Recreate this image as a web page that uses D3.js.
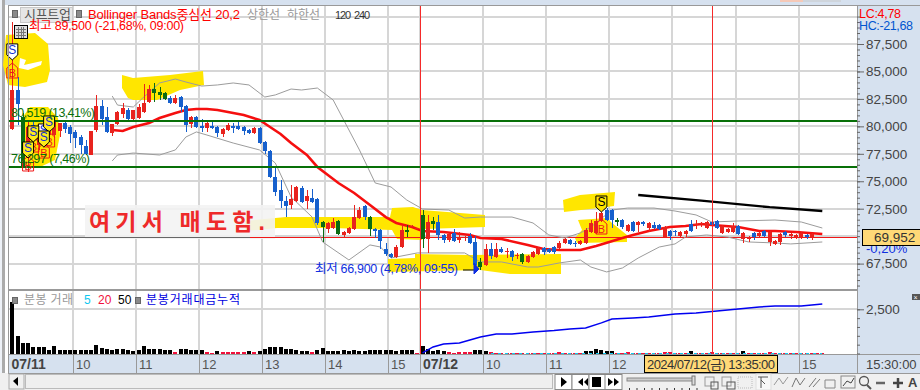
<!DOCTYPE html>
<html><head><meta charset="utf-8">
<script src="https://cdn.jsdelivr.net/npm/d3@7"></script>
<style>html,body{margin:0;padding:0;background:#fff;overflow:hidden}svg{display:block}text{font-family:"Liberation Sans","Noto Sans CJK KR",sans-serif}</style>
</head><body><svg id="c" width="920" height="390"></svg>
<script>
// ---- data ----
const kinds=[..."RBGRBRBRRRBBBBBRRBBRRRBRRRRGGGBRBBRBBRBBRRBBBBRBBBBBBRRBRBBGRRGRRRRBGBBBBRRGRRGRGBBRBRRBBGRBRBRBRGRRRBBBRRBBRRRRRBBGBRBRBRBBRBBRRBRRRBBRRRBRRBRBRRRBRRRBR"];
const highs=[89500,84500,81220,80400,80580,80120,80580,81030,80760,80310,
80580,80120,79670,79210,78760,79580,82860,82400,81760,80210,
81400,82130,81670,81490,82040,83860,83770,83950,83580,83130,
82760,82860,82760,81940,80940,80940,80670,80490,80490,80030,
79850,80310,80310,80400,80030,79760,79940,79940,78670,77850,
76210,75110,73660,74660,74570,74570,74200,74300,73480,71380,
71290,71650,71470,70470,70830,72840,72660,72840,71840,70740,
70650,69380,68470,69200,71020,71020,71020,70740,72380,71930,
71740,71930,70200,70290,70650,70380,70020,70290,70020,68010,
69290,69380,69380,69010,68920,68740,68470,68470,68290,68650,
69010,69010,68920,69100,69560,69830,69740,69560,69650,70740,
71470,72200,72290,72560,72470,71650,71560,71110,71380,71380,
71380,71290,71290,71110,70920,70560,70560,70470,70560,71470,
71470,71290,71380,71740,71470,71020,70740,71200,71020,70380,
70020,70380,70380,70560,70470,69650,70290,70470,70290,70200,
70380,70200,70290,70470,70110];
const bodyTops=[83310,83310,80850,79940,80120,79670,80120,80580,80400,80310,
80310,79940,79490,79030,78210,79580,81850,81850,80850,80210,
81310,81670,81490,81490,81760,82130,83400,83400,83130,83040,
82580,82580,82670,81850,80850,80850,80030,80310,80030,79940,
79760,80120,80030,80030,79940,79670,79850,79850,78580,77760,
75390,74200,73200,73380,74480,74390,73660,73480,73380,71290,
71200,71290,71380,70380,70740,71740,72380,72750,71740,70650,
70560,68830,68380,69010,70560,70560,70920,70740,71930,71290,
71380,71290,70110,70200,70290,69920,69920,70020,69470,67650,
68830,68830,68830,68830,68650,68650,68290,68380,68190,68560,
68920,68920,68830,69010,69380,69740,69650,69380,69560,70560,
71200,71380,72110,72380,72380,71470,71470,71020,71290,71290,
71290,71200,71020,71020,70830,70470,70470,70380,70470,71110,
71110,71200,71290,71290,71380,70920,70650,70920,70920,70290,
69920,70290,70290,70470,70380,69560,70200,70380,70200,70110,
70290,70110,70200,70290,70110];
const bodyBottoms=[79760,82040,76300,77850,78760,78300,79210,79210,79210,79580,
79760,79300,78940,78300,77480,77390,79670,80670,79490,79390,
80210,81130,80670,80670,80760,81310,82220,83040,82860,82490,
82130,82130,81760,80120,80210,79940,79850,79850,79850,79390,
79300,79670,79850,79760,79580,79390,79390,78480,77760,75390,
74020,73200,72750,72840,73200,73110,73200,73110,71200,70830,
70650,70740,70200,70110,70290,70650,71650,71740,70650,70470,
69560,68380,68100,68100,69010,70380,70920,70740,69740,69740,
71110,70110,69650,69650,69560,69650,69830,69380,67380,67190,
67380,68190,68100,68560,68560,68100,68190,67650,67650,68100,
68380,68560,68560,68560,68920,69380,69290,69290,69290,69380,
70380,70290,71380,71470,71470,71290,70830,70470,70470,71020,
71110,70740,70740,70650,69920,70020,70380,70020,70200,70470,
71020,71110,70740,71020,70740,70290,70380,70380,70200,69740,
69740,69920,70020,70020,69470,69290,69470,70110,70020,69920,
69920,69920,69920,70020,70020];
const lows=[79670,80120,76300,75840,78300,77850,78760,78760,78940,79030,
79390,78480,78030,77480,77390,77390,79490,80120,79390,79120,
80120,80760,80580,80580,80670,81220,82130,82220,82400,82400,
82040,82040,81310,79490,79850,79850,79490,79490,79760,79030,
79030,79580,79390,79670,79210,79300,79300,78390,77480,75300,
73660,72560,71740,72470,73110,73020,72470,73020,71020,69470,
70290,70650,70110,69830,70200,70560,71560,71470,70020,69830,
68830,68190,68010,68010,68920,69920,70830,70650,68920,68470,
70560,69650,69380,69470,69470,69380,69560,69290,66900,66950,
67280,67920,68010,68470,68010,67740,67920,67470,67560,68010,
68290,68290,68470,68380,68830,69290,69200,69010,69200,69290,
70290,70200,71290,71380,70740,70920,70650,70380,70380,70380,
70920,70380,70650,70560,69830,69650,70020,69920,69920,70380,
70650,70830,70650,70740,70650,70200,70290,70290,70110,69380,
69470,69650,69920,69920,69100,69200,69200,69920,69740,69740,
69740,69740,69650,69830,69920];
const maIdx=[19,21,23,26,28,31,33,35,37,39,41,44,47,49,51,53,56,58,62,65,68,71,73,76,78,82,87,89,93,98,101,104,108,111,116,118,121,125,128,131,133,138,142,145,149,154];
const maVal=[79670,79580,79940,80310,80760,81220,81490,81580,81580,81490,81310,81030,80580,79940,79300,78480,77390,76300,74840,73930,72840,71740,71200,70830,70470,70380,70110,69830,69740,69200,68830,68740,68740,69100,69830,70110,70470,70830,70920,71110,71020,70830,70470,70470,70380,70200];
const upIdx=[19,20,23,25,28,31,33,36,39,42,45,48,50,53,55,58,61,63,64,66,69,72,75,78,83,86,89,95,99,102,105,108,110,114,117,122,126,130,133,138,145,150,154];
const upVal=[82760,81940,81760,82670,83950,84310,84040,83670,83770,83950,83770,82670,82860,83400,83310,83490,82400,80580,79670,77850,74840,74480,73290,72470,72380,71650,71740,71740,71200,70110,69830,70290,70830,72380,72560,72560,72290,71930,71290,71380,71470,71290,70740];
const loIdx=[19,20,23,28,31,33,35,37,42,47,50,53,57,59,64,68,70,72,77,86,89,93,98,100,104,108,110,113,116,119,123,126,128,132,136,140,145,148,154];
const loVal=[76850,77390,77570,77390,77850,79030,79490,79210,78480,77850,76660,73570,71740,69470,67830,69200,69010,68010,68470,68470,67650,67650,67190,67190,67560,67830,67190,66740,67100,68010,69010,69290,69920,70110,69920,69470,69380,69290,69470];
const trendIdx=[119,131,144,154], trendVal=[73750,73240,72640,72290];
const levels=[80519,76297];
const currentPrice=69952;
const volumes=[52,18,11,11,7,6.7,6.7,4,8,4.3,3.7,4.3,3.7,3.7,4.3,4.3,9,6,5.3,4.3,4.7,5,3.7,3.3,4,8,5.3,5.3,4.7,3.7,3.7,2.3,4.7,5.3,3.7,3.7,3.7,2,1.3,3.3,2,2.3,2.3,2.3,1.7,3.3,1.7,3.3,5.3,6.7,6.7,6.7,5.3,5.3,3.7,
3.3,3.3,2.3,4,6.3,3.3,3.3,3.3,4.3,3.3,4.3,3.3,3,4.3,4.3,4.3,4.3,4.3,3.3,4.3,4.3,4.3,1,8,5.3,3.3,4.3,3.3,1.7,1.3,2,1.7,2,4.3,4.3,3.3,2,1,
.7,.7,.7,.7,.7,.7,.7,.7,.7,.7,.7,2,.7,.7,.7,.7,3.3,3.3,5.3,4,3.3,3.3,.7,.7,2,.7,.7,.7,.7,.7,.7,2,2,.7,.7,.7,3.3,.7,.7,.7,1.7,.7,.7,.7,.7,.7,3.3,.7,.7,.7,.7,2,.7,.7,.7,.7,.7,.7,.7,.7,.7,.7];
const cumIdx=[78,80,82,85,87,89,92,95,99,103,106,109,112,114,118,121,126,130,134,138,142,145,150,154];
const cumVal=[30,370,540,590,760,930,1100,1100,1220,1300,1390,1440,1730,1950,2010,2070,2240,2290,2410,2520,2630,2690,2690,2800];
const sigS=[[0,86050,"w"],[6,78760,"w"],[7,79490,"y"],[4,78580,"y"],[6,78120,"y"],[3,77120,"y"],[112,72200,"k"]];
const sigB=[[0,85770],[3,77300],[4,79030],[6,78480],[7,79490],[112,71560]];
const priceTicks=[67500,70000,72500,75000,77500,80000,82500,85000,87500,90000];
const priceLabels=[67500,72500,75000,77500,80000,82500,85000,87500];
const hourIdx=[0,12,24,36,48,60,72,78,90,102,114,126,138,150];
const hourLabels=["07/11","10","11","12","13","14","15","07/12","10","11","12","13","14","15"];
const crossIdx=133;

// ---- scales ----
const svg=d3.select("#c");
const x=d3.scaleLinear([0,154],[12.3,822.3]);
const y=d3.scaleLinear([67500,87500],[263.6,44]);
const yVol=d3.scaleLinear([0,52],[354,302]);
const yCum=d3.scaleLinear([0,2500],[353.5,309.3]);
const gridX=i=>Math.round(x(i)-2.6);
const L=8, R=857;
const AX="#d6e1ef", GRID="#d6d6d6";

function rect(g,a,b,w,h,f,s){const r=g.append("rect").attr("x",a).attr("y",b).attr("width",w).attr("height",h).attr("fill",f);if(s)r.attr("stroke",s);return r}
function text(g,a,b,t,c,sz,w,o={}){const e=g.append("text").attr("x",a).attr("y",b).attr("fill",c).attr("font-size",sz).text(t);
 if(w)e.attr("textLength",w).attr("lengthAdjust","spacing");for(const k in o)e.attr(k,o[k]);return e}
function path(g,d,f,s,sw){return g.append("path").attr("d",d).attr("fill",f||"none").attr("stroke",s||"none").attr("stroke-width",sw||0)}

// chrome backgrounds
rect(svg,0,0,920,390,"#fff");
rect(svg,0,0,920,5,AX);
rect(svg,0,0,2,390,"#eef2f8");
rect(svg,2,0,3,373,"#ababab");
rect(svg,R,5,63,368,AX);
rect(svg,L,355,R-L,18,AX);
rect(svg,0,373,920,17,"#f0f0f0");
rect(svg,780,0,23,2,"#f5c9b8");
rect(svg,803,0,38,2,"#cfd5dc");

// grid
const grid=svg.append("g").attr("shape-rendering","crispEdges");
grid.selectAll("line.h").data(priceTicks).join("line").attr("x1",L).attr("x2",R).attr("y1",d=>Math.round(y(d))).attr("y2",d=>Math.round(y(d))).attr("stroke",GRID).attr("stroke-width",2);
grid.selectAll("line.v").data(hourIdx.slice(1)).join("line").attr("x1",gridX).attr("x2",gridX).attr("y1",5).attr("y2",354).attr("stroke",GRID).attr("stroke-width",2);
grid.append("line").attr("x1",L).attr("x2",R).attr("y1",Math.round(yCum(2500))).attr("y2",Math.round(yCum(2500))).attr("stroke",GRID).attr("stroke-width",2);

// hand-painted yellow highlighter marks
const hl=svg.append("g").attr("fill","#ffe600");
[
 "M6 35 L35 33 L48 44 L50 70 L47 82 L25 87 L8 85 L3 65 Z M20 58 L26 60 L24 65 L42 61 L41 65 L28 70 L19 68 Z",
 "M122 75 L133 78 L170 75 L203 71 L204 85 L180 90 L157 100 L133 100 L128 98 L122 88 Z",
 "M30 107 L48 107 L58 118 L60 135 L55 160 L38 168 L26 165 L21 140 L22 118 Z",
 "M245 221 L286 217 L390 217 L392 208 L413 207 L422 210 L485 215 L485 227 L424 229 L422 240 L397 239 L392 230 L333 228 L277 228 L245 231 Z",
 "M388 259 L415 258 L415 254 L470 255 L561 254 L561 274 L510 274 L480 270 L388 272 Z",
 "M563 200 L580 195 L615 192 L614 206 L598 208 L564 212 Z",
 "M578 220 L607 218 L612 223 L627 235 L627 242 L577 243 L575 238 L582 230 Z"
].forEach(d=>hl.append("path").attr("d",d).attr("fill-rule","evenodd"));

// annotation panel text background
rect(svg,85,205,190,34,"#f3f3f3").attr("opacity",.9);

// current price line
const cp=svg.append("g").attr("shape-rendering","crispEdges");
cp.append("line").attr("x1",L).attr("x2",250).attr("y1",Math.round(y(currentPrice))).attr("y2",Math.round(y(currentPrice))).attr("stroke","#666");
cp.append("line").attr("x1",250).attr("x2",R).attr("y1",Math.round(y(currentPrice))).attr("y2",Math.round(y(currentPrice))).attr("stroke","#f01818");

// Bollinger lines
const line=(ix,vals,ys)=>d3.line().x((d,k)=>x(ix[k])).y((d,k)=>ys(vals[k]))(vals);
path(svg,line(upIdx,upVal,y),null,"#9c9c9c",1);
path(svg,line(loIdx,loVal,y),null,"#9c9c9c",1);
path(svg,line(maIdx,maVal,y),null,"#f50f0f",2.6);
path(svg,line(trendIdx,trendVal,y),null,"#000",2.4);

// candles
const col={R:"#e8231e",B:"#1660cd",G:"#0b6b12"};
const cg=svg.append("g").attr("shape-rendering","crispEdges");
const cand=cg.selectAll("g").data(kinds).join("g");
cand.append("line").attr("x1",(d,i)=>Math.round(x(i))).attr("x2",(d,i)=>Math.round(x(i)))
 .attr("y1",(d,i)=>y(highs[i])).attr("y2",(d,i)=>y(lows[i])).attr("stroke",d=>col[d]);
cand.append("rect").attr("x",(d,i)=>Math.round(x(i))-2).attr("width",4)
 .attr("y",(d,i)=>y(bodyTops[i])).attr("height",(d,i)=>Math.max(1,y(bodyBottoms[i])-y(bodyTops[i]))).attr("fill",d=>col[d]);

// support / resistance
svg.append("g").attr("shape-rendering","crispEdges").selectAll("line").data(levels).join("line")
 .attr("x1",L).attr("x2",R).attr("y1",d=>y(d)).attr("y2",d=>y(d)).attr("stroke","#087008").attr("stroke-width",2);

// signals
const sg=svg.append("g");
sigB.forEach(([i,p])=>{const cx=x(i),t=y(p);
 path(sg,`M${cx} ${t}L${cx+5.5} ${t+5}V${t+15}H${cx-5.5}V${t+5}Z`,"none","#f01818",1);
 text(sg,cx,t+14,"B","#f01818",11,null,{"text-anchor":"middle"});});
sigS.forEach(([i,p,k])=>{const cx=x(i),t=y(p);
 path(sg,`M${cx-5.5} ${t-16}H${cx+5.5}V${t-5}L${cx} ${t}L${cx-5.5} ${t-5}Z`,k=="w"?"#fff":k=="y"?"#ffec1a":"#ffe600","#000",1);
 text(sg,cx,t-6,"S",k=="k"?"#000":"#1030d0",12,null,{"text-anchor":"middle"});});

// volumes
const vg=svg.append("g").attr("shape-rendering","crispEdges");
vg.selectAll("rect").data(volumes).join("rect").attr("x",(d,i)=>Math.round(x(i))-2).attr("width",4)
 .attr("y",d=>yVol(d)).attr("height",d=>Math.max(1,yVol(0)-yVol(d))).attr("fill",d=>d<=2.3?"#f0103c":"#000");
vg.append("line").attr("x1",x(91)).attr("x2",x(154)).attr("y1",353).attr("y2",353).attr("stroke","#10c8f0").attr("stroke-dasharray","3 4");
path(svg,line(cumIdx,cumVal,yCum),null,"#0000f0",1.5);

// vertical markers
const vm=svg.append("g").attr("shape-rendering","crispEdges");
vm.selectAll("line").data([78,crossIdx]).join("line").attr("x1",(d,i)=>i?Math.round(x(d)):gridX(d)).attr("x2",(d,i)=>i?Math.round(x(d)):gridX(d)).attr("y1",5).attr("y2",354).attr("stroke","#f52a2a");

// frames
const fr=svg.append("g").attr("shape-rendering","crispEdges").attr("stroke","#999");
fr.append("line").attr("x1",L).attr("x2",920).attr("y1",5).attr("y2",5);
fr.append("line").attr("x1",L).attr("x2",R).attr("y1",290).attr("y2",290).attr("stroke-width",1.5);
fr.append("line").attr("x1",L).attr("x2",920).attr("y1",354.5).attr("y2",354.5);
fr.append("line").attr("x1",L).attr("x2",920).attr("y1",373).attr("y2",373);
fr.append("line").attr("x1",L).attr("x2",L).attr("y1",5).attr("y2",373);
fr.append("line").attr("x1",R).attr("x2",R).attr("y1",5).attr("y2",373);
fr.selectAll("line.t").data(hourIdx.slice(1)).join("line").attr("x1",gridX).attr("x2",gridX).attr("y1",355).attr("y2",373);

// price axis
const axG=svg.append("g").attr("transform",`translate(${R},0)`);
const minor=d3.range(65500,90500,500);
axG.append("g").call(d3.axisRight(y).tickValues(minor).tickSize(3).tickFormat("")).call(g=>g.select(".domain").remove()).selectAll("line").attr("stroke","#666");
axG.append("g").call(d3.axisRight(y).tickValues(priceLabels).tickSize(7).tickPadding(2).tickFormat(d3.format(","))).call(g=>g.select(".domain").remove())
 .call(g=>g.selectAll("text").attr("fill","#444").attr("font-size",13.5).attr("font-family",'"Liberation Sans"'))
 .selectAll("line").attr("stroke","#666");
const vAx=svg.append("g").attr("transform",`translate(${R},0)`);
vAx.append("g").call(d3.axisRight(yCum).tickValues(d3.range(0,3000,500)).tickSize(3).tickFormat("")).call(g=>g.select(".domain").remove()).selectAll("line").attr("stroke","#666");
vAx.append("g").call(d3.axisRight(yCum).tickValues([2500]).tickSize(7).tickPadding(2).tickFormat(d3.format(","))).call(g=>g.select(".domain").remove())
 .call(g=>g.selectAll("text").attr("fill","#444").attr("font-size",13.5))
 .selectAll("line").attr("stroke","#666");
rect(svg,912,294,8,6,"#555");
text(svg,913.5,299.5,"×","#fff",7);

// hour labels
hourIdx.forEach((d,k)=>{const b=hourLabels[k].includes("/");
 if(d==126||d==138)return;
 text(svg,gridX(d)+(k==0?1.5:3),368.5,hourLabels[k],b?"#444":"#555",b?14:13,null,b?{"font-weight":"bold"}:{});});
text(svg,866,368.5,"15:30:00","#444",13);

// header texts
rect(svg,12,10,5,7,"#8a8a8a","#666").attr("shape-rendering","crispEdges");
rect(svg,20,7,52,15,"#e6e6e6","#c8c8c8").attr("shape-rendering","crispEdges");
text(svg,24,19,"시프트업","#555",13,47);
rect(svg,76.5,10,5,7,"#8a8a8a","#666").attr("shape-rendering","crispEdges");
text(svg,88,19,"Bollinger Bands중심선 20,2","#f00",13,152);
text(svg,247,19,"상한선","#999",12,33);
text(svg,287,19,"하한선","#999",12,33);
text(svg,335,19,"120","#333",11,16);
text(svg,354,19,"240","#333",11,16);
text(svg,29,30,"최고 89,500 (-21,68%, 09:00)","#f00",12.5,155);
rect(svg,14.5,25.5,13,13,"#ddd","#000").attr("shape-rendering","crispEdges");
path(svg,"M16 29.5H26M16 32.5H26M16 35.5H26M18.5 27V38M21 27V38M23.5 27V38",null,"#777",1).attr("shape-rendering","crispEdges");
text(svg,11,117,"80,519 (13,41%)","#0a6e0a",12.5,84);
text(svg,11,163,"76,297 (7,46%)","#0a6e0a",12.5,79);
text(svg,315,273,"최저 66,900 (4,78%, 09:55)","#0f2fe0",12.5,143);
path(svg,"M463 270H476",null,"#000",1);
path(svg,"M474 263L479 269L474 274Z","#0f2fe0","#0f2fe0",1);
text(svg,89,230,"여기서 매도함.","#ee2a2a",23,176,{"font-weight":"bold"});
text(svg,859,18,"LC:4,78","#f00",12.5,42);
text(svg,859,30,"HC:-21,68","#0055d0",12.5,54);
text(svg,866,253,"-0,20%","#0f2fe0",13);
rect(svg,862.5,229.5,58,16,"#ffd977","#000").attr("shape-rendering","crispEdges");
text(svg,874,242,d3.format(",")(currentPrice),"#333",13.5);
// volume legend
rect(svg,12,297,5,6,"#8a8a8a","#666").attr("shape-rendering","crispEdges");
text(svg,24,304,"분봉 거래","#999",12,49);
text(svg,84,304,"5","#10c8f0",12);
text(svg,98,304,"20","#f0103c",12);
text(svg,118,304,"50","#000",12);
rect(svg,135,297,5,6,"#8a8a8a","#666").attr("shape-rendering","crispEdges");
text(svg,146,304,"분봉거래대금누적","#0000e0",12,94);
// date tooltip
rect(svg,644.5,355.5,133,17,"#ffd977","#000").attr("shape-rendering","crispEdges");
text(svg,647,368.5,"2024/07/12(금) 13:35:00","#333",13,128);

// bottom toolbar
const tb=svg.append("g");
rect(tb,9,374,15,15,"#f0f0f0","#aaa");
path(tb,"M13 381L18 377V386Z","#000");
rect(tb,25.5,374.5,527,14,"#efefef","#bbb");
[555,572,589,605].forEach(a=>rect(tb,a,374.5,17,15,"#fff","#888"));
path(tb,"M561 377L567 382L561 387Z","#000");
path(tb,"M578 382L583 378V386ZM584 382L588 378V386Z","#000");
rect(tb,592,377,9,10,"#000");
path(tb,"M608 378L613 382L608 386ZM614 378L619 382L614 386Z","#000");
rect(tb,627,378,67,3,"#ccc","#888");
rect(tb,692,376,3,9,"#ddd","#777");
tb.append("g").selectAll("rect").data(d3.range(629,697,7.5)).join("rect").attr("x",d=>d).attr("y",388).attr("width",1).attr("height",2).attr("fill","#333");
rect(tb,705,377,9,9,"none","#999");rect(tb,711,382,7,7,"none","#555");
rect(tb,722,377,9,9,"none","#999");rect(tb,727,382,8,7,"none","#555");
rect(tb,738,377,14,11,"none","#bbb").attr("stroke-dasharray","1 1");
rect(tb,756,374,15,16,"#f7f7f7","#ddd");
path(tb,"M758 377H768M761 377V388M761 380L765 384",null,"#555",1);
path(tb,"M774 385L779 378L783 384L788 377",null,"#999",1);
path(tb,"M792 387L796 378L800 385L805 378",null,"#777",1);
path(tb,"M809 387L816 378M813 387L820 379",null,"#777",1);
path(tb,"M825 380H835V388H825Z","none","#888",1);
rect(tb,841,376,14,12,"none","#888");
path(tb,"M843 386L847 381L851 383L854 378",null,"#444",1);
tb.append("circle").attr("cx",864).attr("cy",381).attr("r",4.5).attr("fill","none").attr("stroke","#555").attr("stroke-width",1.3);
path(tb,"M867 385L871 389",null,"#555",2);
path(tb,"M876 383H885",null,"#666",2.5);
path(tb,"M893 383H903M898 378V388",null,"#444",2.5);
text(tb,908,387,"A","#444",13,null,{"font-weight":"bold"});
</script></body></html>
